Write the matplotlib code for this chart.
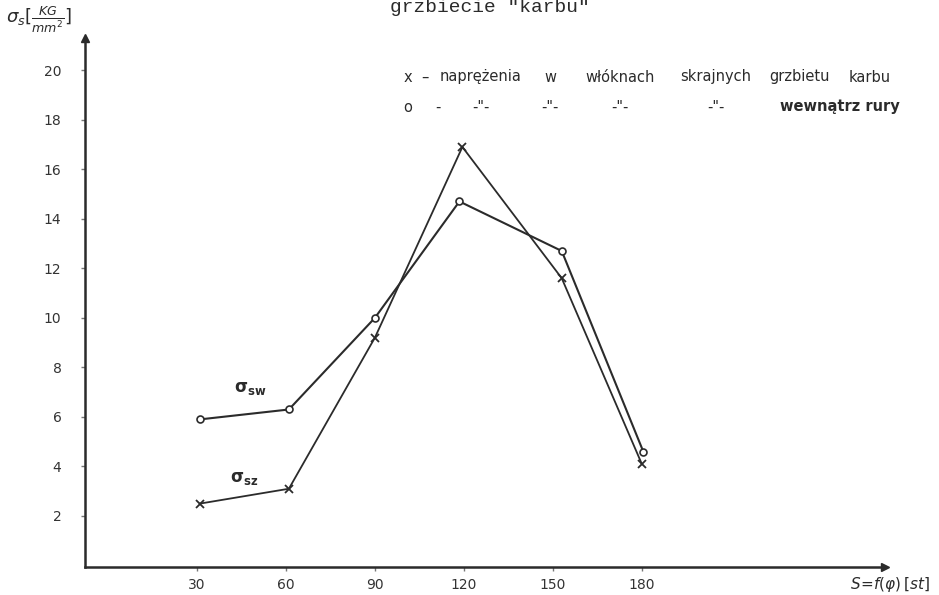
import matplotlib
matplotlib.use('Agg')
import matplotlib.pyplot as plt

"""Naprężenia w karbie rury w funkcji kąta S = f(phi)"""

# o - naprężenia wewnątrz rury (sigma_sw)
kat_sw = [31, 61, 90, 118.5, 153, 180.5]
sigma_sw = [5.9, 6.3, 10.0, 14.7, 12.7, 4.6]

# x - naprężenia w włóknach skrajnych grzbietu karbu (sigma_sz)
kat_sz = [31, 61, 90, 119.5, 153, 180]
sigma_sz = [2.5, 3.1, 9.2, 16.9, 11.6, 4.1]

xticks = [30, 60, 90, 120, 150, 180]
yticks = [2, 4, 6, 8, 10, 12, 14, 16, 18, 20]

legenda_1 = ['x', '–', 'naprężenia', 'w', 'włóknach', 'skrajnych', 'grzbietu', 'karbu']
legenda_2 = ['o', '-', '-"-', '-"-', '-"-', '-"-', 'wewnątrz rury']

W, H = 939, 595
INK = '#2b2b2b'


def fx(px):
    return px / W


def fy(py):
    return 1 - py / H


fig = plt.figure(figsize=(W / 100, H / 100), dpi=100)
fig.patch.set_facecolor('white')

# osie rysowane odręcznie: lewa oś na x=85 px, dolna na y=567 px
left, right, bottom, top = 85, 885, 567, 38
ax = fig.add_axes([fx(left), fy(bottom), fx(right - left), (bottom - top) / H])

ax.plot(kat_sw, sigma_sw, color=INK, lw=1.5, marker='o', ms=5,
        mfc='white', mec=INK, mew=1.2, zorder=3)
ax.plot(kat_sz, sigma_sz, color=INK, lw=1.3, marker='x', ms=6,
        mec=INK, mew=1.3, zorder=3)

ax.set_xlim(-7.75, 262.0)
ax.set_ylim(-0.06, 21.3)

ax.set_xticks(xticks)
ax.set_yticks(yticks)
ax.tick_params(axis='both', direction='out', length=3, width=1, color='#777777',
               labelsize=10, labelcolor='#333333')
ax.tick_params(axis='y', pad=14)
ax.tick_params(axis='x', pad=5)

for s in ['top', 'right']:
    ax.spines[s].set_visible(False)
for s in ['left', 'bottom']:
    ax.spines[s].set_color(INK)
    ax.spines[s].set_linewidth(1.8)

# groty strzałek na końcach osi
ax.plot(0, 1, marker='^', ms=6, color=INK, transform=ax.transAxes, clip_on=False)
ax.plot(1, 0, marker='>', ms=6, color=INK, transform=ax.transAxes, clip_on=False)

"""opisy krzywych"""
ax.text(48, (565.5 - 388) / 24.75, r'$\mathbf{\sigma_{sw}}$', fontsize=12, color=INK,
        ha='center', va='center')
ax.text(46, (565.5 - 478) / 24.75, r'$\mathbf{\sigma_{sz}}$', fontsize=12, color=INK,
        ha='center', va='center')

"""tytuł (ucięty u góry) i opisy osi"""
fig.text(fx(490), fy(8), 'grzbiecie "karbu"', family='Liberation Mono', fontsize=14,
         color=INK, ha='center', va='center')
fig.text(fx(6), fy(20), r'$\sigma_s[\frac{KG}{mm^2}]$', fontsize=13, color=INK,
         ha='left', va='center')
fig.text(fx(930), fy(584), r'$S\!=\!f(\varphi)\,[st]$', fontsize=11, color=INK,
         ha='right', va='center')

"""legenda pisana odręcznie"""
pos_1 = [408, 425, 481, 550, 620, 716, 800, 870]
for txt, px in zip(legenda_1, pos_1):
    fig.text(fx(px), fy(77), txt, fontsize=10.5, color=INK, ha='center', va='center')

pos_2 = [408, 438, 481, 550, 620, 716, 840]
for txt, px in zip(legenda_2, pos_2):
    fig.text(fx(px), fy(107), txt, fontsize=10.5, color=INK, ha='center', va='center',
             weight='bold' if txt == 'wewnątrz rury' else 'normal')

plt.savefig('out.png', dpi=100)
